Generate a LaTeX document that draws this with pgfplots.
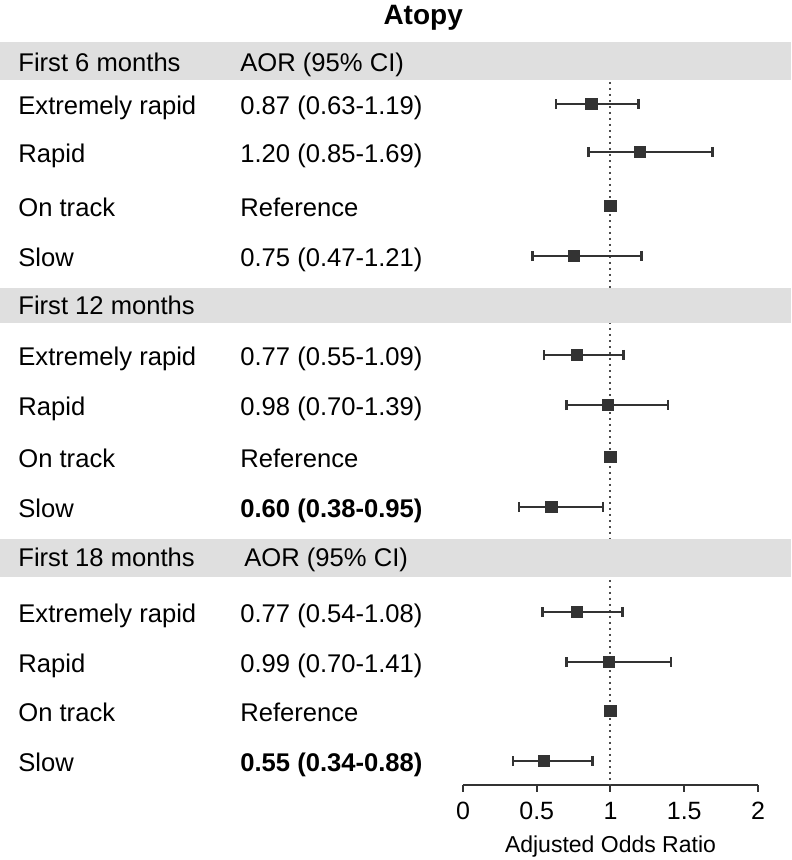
\documentclass[border=0pt]{standalone}
\usepackage{pgfplots}
\pgfplotsset{compat=1.18}
\usepackage{pgfplotstable}
\usepackage{fontspec}
\setmainfont{Liberation Sans}
\definecolor{band}{HTML}{DFDFDF}
\definecolor{ink}{HTML}{333333}

% x = estimate, y = -row position (pixel-like units), lo/hi = 95% CI
\pgfplotstableread{
x    y     lo    hi
0.87 -104  0.63  1.19
1.20 -152  0.85  1.69
1.00 -206  1.00  1.00
0.75 -256  0.47  1.21
0.77 -355  0.55  1.09
0.98 -405  0.70  1.39
1.00 -457  1.00  1.00
0.60 -507  0.38  0.95
0.77 -612  0.54  1.08
0.99 -662  0.70  1.41
1.00 -711  1.00  1.00
0.55 -761  0.34  0.88
}\forest

\begin{document}
\begin{tikzpicture}
\begin{axis}[
  scale only axis,
  width=147.5pt, height=392.5pt,
  xmin=0, xmax=2, ymin=-785, ymax=0,
  clip=false,
  axis x line*=bottom,
  axis y line=none,
  axis line style={ink, line width=1pt, -},
  xtick={0,0.5,1,1.5,2},
  tick align=outside,
  major tick length=3.5pt,
  tick style={ink, line width=1pt},
  xticklabel style={font=\fontsize{12.5}{14}\selectfont, black, yshift=-1.5pt},
  /pgf/number format/assume math mode=true,
  xlabel={Adjusted Odds Ratio},
  xlabel style={font=\fontsize{11.5}{13}\selectfont, at={(axis description cs:0.5,0)},
    anchor=base, inner sep=0pt, yshift=-33.5pt},
]
% bounding box
\path (axis cs:-3.139,0) rectangle (axis cs:2.224,-860);
% reference line
\draw[gray!60!black, dotted, line width=1pt] (axis cs:1,-82) -- (axis cs:1,-785);
% header bands
\fill[band] (axis cs:-3.139,-42) rectangle (axis cs:2.224,-80);
\fill[band] (axis cs:-3.139,-288) rectangle (axis cs:2.224,-323);
\fill[band] (axis cs:-3.139,-539) rectangle (axis cs:2.224,-577);
% title
\node[anchor=base, inner sep=0pt, font=\fontsize{14}{16}\selectfont\bfseries] at (axis cs:-0.27,-25) {Atopy};
% text
\begin{scope}[every node/.style={anchor=base west, font=\fontsize{12.8}{15}\selectfont, inner sep=0pt}]
\node at (axis cs:-3.017,-72) {First 6 months};
\node at (axis cs:-1.512,-72) {AOR (95\% CI)};
\node at (axis cs:-3.017,-114.5) {Extremely rapid};
\node at (axis cs:-1.512,-114.5) {0.87 (0.63-1.19)};
\node at (axis cs:-3.017,-162.5) {Rapid};
\node at (axis cs:-1.512,-162.5) {1.20 (0.85-1.69)};
\node at (axis cs:-3.017,-216.5) {On track};
\node at (axis cs:-1.512,-216.5) {Reference};
\node at (axis cs:-3.017,-266.5) {Slow};
\node at (axis cs:-1.512,-266.5) {0.75 (0.47-1.21)};
\node at (axis cs:-3.017,-315) {First 12 months};
\node at (axis cs:-3.017,-366) {Extremely rapid};
\node at (axis cs:-1.512,-366) {0.77 (0.55-1.09)};
\node at (axis cs:-3.017,-415.5) {Rapid};
\node at (axis cs:-1.512,-415.5) {0.98 (0.70-1.39)};
\node at (axis cs:-3.017,-467.5) {On track};
\node at (axis cs:-1.512,-467.5) {Reference};
\node at (axis cs:-3.017,-517.5) {Slow};
\node at (axis cs:-1.512,-517.5) {\bfseries 0.60 (0.38-0.95)};
\node at (axis cs:-3.017,-567) {First 18 months};
\node at (axis cs:-1.485,-567) {AOR (95\% CI)};
\node at (axis cs:-3.017,-622.5) {Extremely rapid};
\node at (axis cs:-1.512,-622.5) {0.77 (0.54-1.08)};
\node at (axis cs:-3.017,-672.5) {Rapid};
\node at (axis cs:-1.512,-672.5) {0.99 (0.70-1.41)};
\node at (axis cs:-3.017,-721.5) {On track};
\node at (axis cs:-1.512,-721.5) {Reference};
\node at (axis cs:-3.017,-771.5) {Slow};
\node at (axis cs:-1.512,-771.5) {\bfseries 0.55 (0.34-0.88)};
\end{scope}
% estimates with CIs
\addplot[only marks, mark=square*, mark size=2.8pt, mark options={fill=ink, draw=ink},
  error bars/.cd, x dir=both, x explicit,
  error bar style={ink, line width=1.4pt},
  error mark options={ink, line width=1.3pt, mark size=2.6pt, rotate=90}]
  table[x=x, y=y,
        x error plus expr=\thisrow{hi}-\thisrow{x},
        x error minus expr=\thisrow{x}-\thisrow{lo}] {\forest};
\end{axis}
\end{tikzpicture}
\end{document}
